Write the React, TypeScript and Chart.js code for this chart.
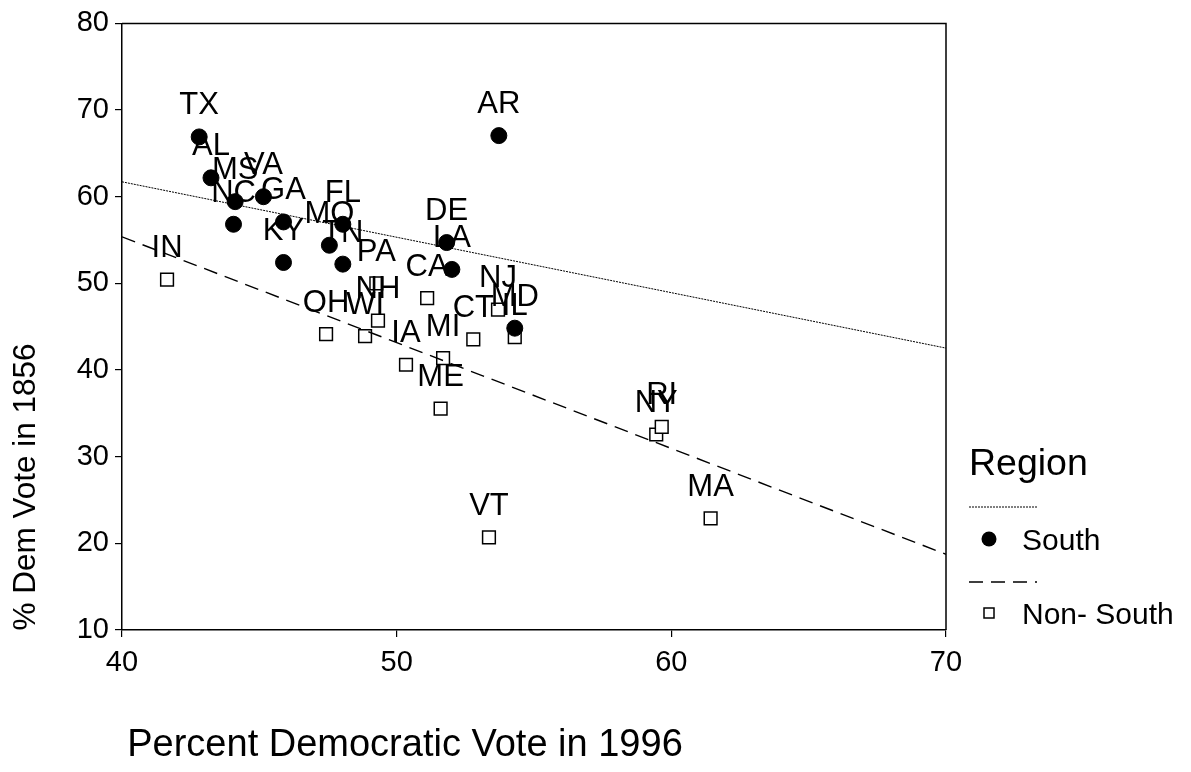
import React, { useEffect, useRef } from "react";
import { Chart, registerables } from "chart.js";

Chart.register(...registerables);

const southStates = ["TX", "AL", "MS", "VA", "NC", "GA", "KY", "FL", "MO", "TN", "AR", "DE", "LA", "MD"];
const southX = [42.81, 43.24, 44.12, 45.15, 44.06, 45.88, 45.88, 48.04, 47.55, 48.04, 53.72, 51.82, 52.01, 54.3];
const southY = [66.9, 62.18, 59.43, 60.0, 56.82, 57.09, 52.41, 56.82, 54.4, 52.22, 67.05, 54.71, 51.61, 44.83];

const nonSouthStates = ["IN", "PA", "NH", "WI", "OH", "IA", "MI", "ME", "CA", "CT", "NJ", "IL", "VT", "MA", "NY", "RI"];
const nonSouthX = [41.64, 49.26, 49.32, 48.85, 47.43, 50.34, 51.69, 51.6, 51.11, 52.79, 53.69, 54.3, 53.36, 61.43, 59.45, 59.65];
const nonSouthY = [50.43, 50.0, 45.71, 43.91, 44.14, 40.61, 41.38, 35.55, 48.31, 43.53, 46.98, 43.79, 20.69, 22.87, 32.56, 33.45];

const fitX = [40, 70];
const southFitY = [61.72, 42.53];
const nonSouthFitY = [55.37, 18.74];

const xTicks = [40, 50, 60, 70];
const yTicks = [10, 20, 30, 40, 50, 60, 70, 80];

const xTitle = "Percent Democratic Vote in 1996";
const yTitle = "% Dem Vote in 1856";
const legendTitle = "Region";
const legendSouth = "South";
const legendNonSouth = "Non- South";

const FONT = '"Liberation Sans", Arial, sans-serif';

export default function App() {
  const ref = useRef<HTMLCanvasElement | null>(null);

  useEffect(() => {
    const canvas = ref.current;
    if (!canvas) return;

    const labelPlugin = {
      id: "stateLabels",
      afterDatasetsDraw(chart: any) {
        const ctx = chart.ctx;
        const { top, left, right, bottom } = chart.chartArea;
        ctx.save();
        ctx.strokeStyle = "#000";
        ctx.lineWidth = 1.5;
        ctx.beginPath();
        ctx.moveTo(left, top);
        ctx.lineTo(right, top);
        ctx.lineTo(right, bottom);
        ctx.stroke();

        ctx.fillStyle = "#000";
        ctx.font = `31px ${FONT}`;
        ctx.textAlign = "center";
        ctx.textBaseline = "middle";
        const xs = chart.scales.x;
        const ys = chart.scales.y;
        southStates.forEach((s, i) => {
          ctx.fillText(s, xs.getPixelForValue(southX[i]), ys.getPixelForValue(southY[i]) - 31);
        });
        nonSouthStates.forEach((s, i) => {
          ctx.fillText(s, xs.getPixelForValue(nonSouthX[i]), ys.getPixelForValue(nonSouthY[i]) - 31);
        });

        // axis titles
        ctx.font = `38px ${FONT}`;
        ctx.textAlign = "center";
        ctx.fillText(xTitle, 405, 746);
        ctx.save();
        ctx.translate(26, 487);
        ctx.rotate(-Math.PI / 2);
        ctx.textAlign = "center";
        ctx.font = `31.5px ${FONT}`;
        ctx.fillText(yTitle, 0, 0);
        ctx.restore();

        // legend
        ctx.textAlign = "left";
        ctx.font = `37.5px ${FONT}`;
        ctx.fillText(legendTitle, 969, 465);
        ctx.strokeStyle = "#000";
        ctx.lineWidth = 1;
        ctx.setLineDash([2, 1]);
        ctx.beginPath();
        ctx.moveTo(969, 507);
        ctx.lineTo(1037, 507);
        ctx.stroke();
        ctx.setLineDash([14, 8]);
        ctx.lineWidth = 1.3;
        ctx.beginPath();
        ctx.moveTo(969, 582);
        ctx.lineTo(1037, 582);
        ctx.stroke();
        ctx.setLineDash([]);
        ctx.beginPath();
        ctx.arc(989, 539, 7.5, 0, Math.PI * 2);
        ctx.fill();
        ctx.lineWidth = 1.5;
        ctx.strokeRect(984, 608, 10, 10);
        ctx.font = `30px ${FONT}`;
        ctx.fillText(legendSouth, 1022, 542);
        ctx.fillText(legendNonSouth, 1022, 616);
        ctx.restore();
      },
    };

    const chart = new Chart(canvas, {
      type: "scatter",
      data: {
        datasets: [
          {
            type: "line",
            label: "South fit",
            data: fitX.map((x, i) => ({ x, y: southFitY[i] })),
            borderColor: "#000",
            borderWidth: 1,
            borderDash: [2, 1],
            pointRadius: 0,
            fill: false,
          } as any,
          {
            type: "line",
            label: "Non-South fit",
            data: fitX.map((x, i) => ({ x, y: nonSouthFitY[i] })),
            borderColor: "#000",
            borderWidth: 1.4,
            borderDash: [14, 8],
            pointRadius: 0,
            fill: false,
          } as any,
          {
            label: "South",
            data: southX.map((x, i) => ({ x, y: southY[i] })),
            pointStyle: "circle",
            pointRadius: 8,
            backgroundColor: "#000",
            borderColor: "#000",
            borderWidth: 1,
          },
          {
            label: "Non-South",
            data: nonSouthX.map((x, i) => ({ x, y: nonSouthY[i] })),
            pointStyle: "rect",
            pointRadius: 9,
            backgroundColor: "#fff",
            borderColor: "#000",
            borderWidth: 1.5,
          },
        ],
      },
      options: {
        responsive: false,
        animation: false,
        layout: { padding: { top: 20, right: 245, left: 0, bottom: 0 } },
        plugins: { legend: { display: false }, tooltip: { enabled: false } },
        scales: {
          x: {
            type: "linear",
            min: 40,
            max: 70,
            afterBuildTicks: (s: any) => {
              s.ticks = xTicks.map((v) => ({ value: v }));
            },
            afterFit: (s: any) => {
              s.height = 142;
            },
            ticks: { color: "#000", font: { family: FONT, size: 29 }, padding: 9 },
            grid: { drawOnChartArea: false, drawTicks: true, tickLength: 7, color: "#000", lineWidth: 1.2 },
            border: { display: true, color: "#000", width: 1.5 },
          },
          y: {
            type: "linear",
            min: 10,
            max: 80,
            afterBuildTicks: (s: any) => {
              s.ticks = yTicks.map((v) => ({ value: v }));
            },
            afterFit: (s: any) => {
              s.width = 122;
            },
            ticks: { color: "#000", font: { family: FONT, size: 29 }, padding: 6 },
            grid: { drawOnChartArea: false, drawTicks: true, tickLength: 7, color: "#000", lineWidth: 1.2 },
            border: { display: true, color: "#000", width: 1.5 },
          },
        },
      },
      plugins: [labelPlugin],
    } as any);

    return () => chart.destroy();
  }, []);

  return (
    <div style={{ position: "fixed", left: 0, top: 0, width: 1191, height: 772, background: "#fff" }}>
      <canvas ref={ref} width={1191} height={772} style={{ width: 1191, height: 772, display: "block" }} />
    </div>
  );
}
